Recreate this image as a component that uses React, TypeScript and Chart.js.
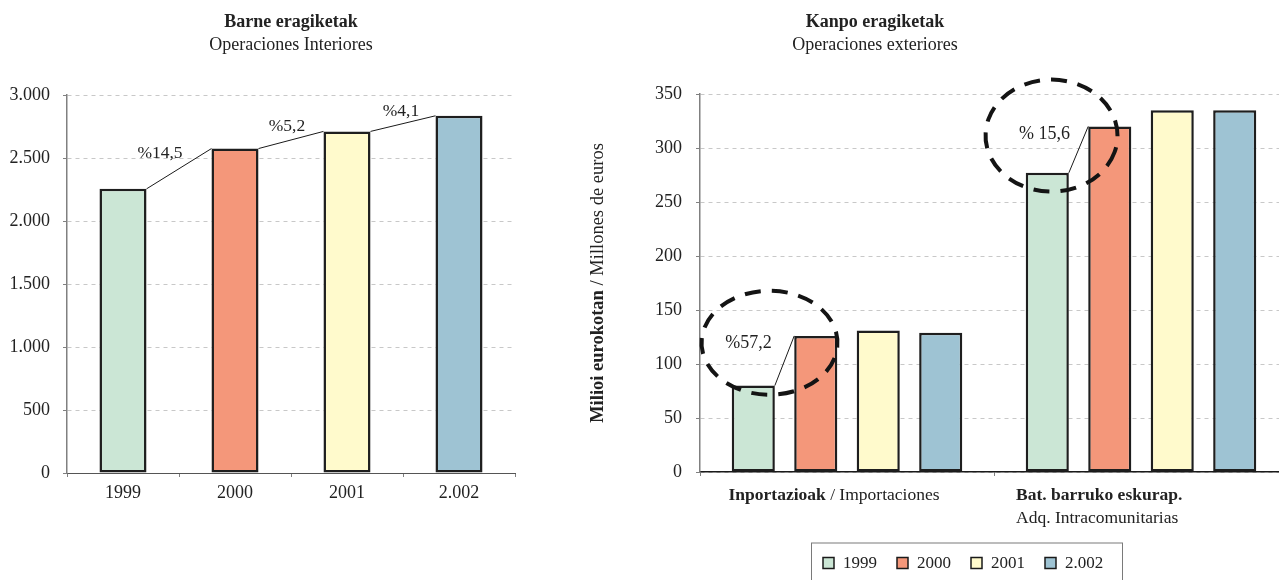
import React, { useEffect, useRef } from "react";
import { Chart, registerables } from "chart.js";

Chart.register(...registerables);

const SERIF = "'Liberation Serif', 'Times New Roman', serif";

// ---- Data ----
const yearLabels = ["1999", "2000", "2001", "2.002"];
const barColors = ["#cbe6d5", "#f4977a", "#fffacc", "#9ec3d3"];

const interiorValues = [2255, 2575, 2711, 2835];
const interiorChanges = ["%14,5", "%5,2", "%4,1"];
const interiorTickStep = 500;
const interiorMax = 3000;

const exteriorCategoryBold = ["Inportazioak", "Bat. barruko eskurap."];
const exteriorCategoryNormal = ["Importaciones", "Adq. Intracomunitarias"];
const exterior1999 = [80, 277];
const exterior2000 = [126, 320];
const exterior2001 = [131, 335];
const exterior2002 = [129, 335];
const exteriorChanges = ["%57,2", "% 15,6"];
const exteriorTickStep = 50;
const exteriorMax = 350;

const fmtThousands = (v: number) =>
  String(v).replace(/\B(?=(\d{3})+(?!\d))/g, ".");

function barBox(el: any) {
  return el.getProps(["x", "y", "width", "base"], true);
}

const leftPlugin = {
  id: "leftDecor",
  afterDatasetsDraw(chart: any) {
    const ctx = chart.ctx as CanvasRenderingContext2D;
    const bars = chart.getDatasetMeta(0).data;
    const offsets = [
      [-19, -15],
      [-4, -14],
      [-2, -12],
    ];
    ctx.save();
    ctx.strokeStyle = "#1a1a1a";
    ctx.lineWidth = 1;
    ctx.fillStyle = "#222";
    ctx.textAlign = "center";
    ctx.textBaseline = "middle";
    ctx.font = `17.5px ${SERIF}`;
    interiorChanges.forEach((label, i) => {
      const a = barBox(bars[i]);
      const b = barBox(bars[i + 1]);
      const x1 = a.x + a.width / 2;
      const y1 = a.y;
      const x2 = b.x - b.width / 2;
      const y2 = b.y;
      ctx.beginPath();
      ctx.moveTo(x1, y1);
      ctx.lineTo(x2, y2);
      ctx.stroke();
      ctx.fillText(label, (x1 + x2) / 2 + offsets[i][0], (y1 + y2) / 2 + offsets[i][1]);
    });
    const cx = (chart.chartArea.left + chart.chartArea.right) / 2;
    ctx.font = `bold 18px ${SERIF}`;
    ctx.fillText("Barne eragiketak", cx, 22);
    ctx.font = `18px ${SERIF}`;
    ctx.fillText("Operaciones Interiores", cx, 45);
    ctx.restore();
  },
};

const rightPlugin = {
  id: "rightDecor",
  afterDatasetsDraw(chart: any) {
    const ctx = chart.ctx as CanvasRenderingContext2D;
    const area = chart.chartArea;
    const m0 = chart.getDatasetMeta(0).data;
    const m1 = chart.getDatasetMeta(1).data;
    const labelOff = [
      [-36, -17],
      [-34, -15],
    ];
    const ellOff = [
      [-15, -18, 68, 52],
      [-27, -14, 66, 56],
    ];
    ctx.save();
    ctx.fillStyle = "#222";
    ctx.textAlign = "center";
    ctx.textBaseline = "middle";
    exteriorChanges.forEach((label, g) => {
      const a = barBox(m0[g]);
      const b = barBox(m1[g]);
      const x1 = a.x + a.width / 2;
      const y1 = a.y;
      const x2 = b.x - b.width / 2;
      const y2 = b.y;
      ctx.strokeStyle = "#1a1a1a";
      ctx.lineWidth = 1;
      ctx.setLineDash([]);
      ctx.beginPath();
      ctx.moveTo(x1, y1);
      ctx.lineTo(x2, y2);
      ctx.stroke();
      const mx = (x1 + x2) / 2;
      const my = (y1 + y2) / 2;
      ctx.font = `18px ${SERIF}`;
      ctx.fillText(label, mx + labelOff[g][0], my + labelOff[g][1]);
      const e = ellOff[g];
      ctx.strokeStyle = "#141414";
      ctx.lineWidth = 4;
      ctx.setLineDash([16, 11]);
      ctx.beginPath();
      ctx.ellipse(mx + e[0], my + e[1], e[2], e[3], 0, 0.3, 0.3 + Math.PI * 2);
      ctx.stroke();
    });
    ctx.setLineDash([]);

    // Titles
    const tx = area.left + 175;
    ctx.font = `bold 18px ${SERIF}`;
    ctx.fillText("Kanpo eragiketak", tx, 22);
    ctx.font = `18px ${SERIF}`;
    ctx.fillText("Operaciones exteriores", tx, 45);

    // Y axis title (rotated, mixed weight)
    const boldPart = "Milioi eurokotan";
    const normalPart = " / Millones de euros";
    ctx.save();
    ctx.translate(area.left - 102, (area.top + area.bottom) / 2);
    ctx.rotate(-Math.PI / 2);
    ctx.textAlign = "left";
    ctx.font = `bold 18.5px ${SERIF}`;
    const wb = ctx.measureText(boldPart).width;
    ctx.font = `18.5px ${SERIF}`;
    const wn = ctx.measureText(normalPart).width;
    const start = -(wb + wn) / 2;
    ctx.font = `bold 18.5px ${SERIF}`;
    ctx.fillText(boldPart, start, 0);
    ctx.font = `18.5px ${SERIF}`;
    ctx.fillText(normalPart, start + wb, 0);
    ctx.restore();

    // Category labels
    const xs = chart.scales.x;
    const ly = area.bottom + 23;
    ctx.textAlign = "left";
    {
      const c0 = xs.getPixelForValue(0) - 13;
      ctx.font = `bold 17.5px ${SERIF}`;
      const b0 = ctx.measureText(exteriorCategoryBold[0]).width;
      const sep = " / " + exteriorCategoryNormal[0];
      ctx.font = `17.5px ${SERIF}`;
      const n0 = ctx.measureText(sep).width;
      const s0 = c0 - (b0 + n0) / 2;
      ctx.font = `bold 17.5px ${SERIF}`;
      ctx.fillText(exteriorCategoryBold[0], s0, ly);
      ctx.font = `17.5px ${SERIF}`;
      ctx.fillText(sep, s0 + b0, ly);
    }
    {
      const l1 = xs.getPixelForValue(1) - 125;
      ctx.font = `bold 17.5px ${SERIF}`;
      ctx.fillText(exteriorCategoryBold[1], l1, ly);
      ctx.font = `17.5px ${SERIF}`;
      ctx.fillText(exteriorCategoryNormal[1], l1, ly + 23);
    }

    // Legend
    const lx = area.left + 111;
    const ltop = area.bottom + 70.5;
    ctx.strokeStyle = "#7a7a7a";
    ctx.lineWidth = 1;
    ctx.strokeRect(lx + 0.5, ltop + 0.5, 311, 60);
    let x = lx + 12;
    const cy = ltop + 21;
    ctx.font = `17px ${SERIF}`;
    chart.data.datasets.forEach((ds: any) => {
      ctx.fillStyle = ds.backgroundColor;
      ctx.fillRect(x, cy - 6, 11, 11);
      ctx.strokeStyle = "#1a1a1a";
      ctx.lineWidth = 1.5;
      ctx.strokeRect(x, cy - 6, 11, 11);
      ctx.fillStyle = "#222";
      ctx.fillText(ds.label, x + 20, cy);
      x += 20 + ctx.measureText(ds.label).width + 20;
    });
    ctx.restore();
  },
};

const yGrid = {
  color: "#c8c8c8",
  lineWidth: 1,
  tickLength: 4,
  tickColor: "#808080",
  tickBorderDash: [],
};

export default function App() {
  const leftRef = useRef<HTMLCanvasElement>(null);
  const rightRef = useRef<HTMLCanvasElement>(null);

  useEffect(() => {
    Chart.defaults.font.family = SERIF;
    const left = new Chart(leftRef.current!, {
      type: "bar",
      data: {
        labels: yearLabels,
        datasets: [
          {
            data: interiorValues,
            backgroundColor: barColors,
            borderColor: "#1e1e1e",
            borderWidth: 2.5,
            borderSkipped: false,
            barPercentage: 0.42,
            categoryPercentage: 1,
          },
        ],
      },
      options: {
        responsive: false,
        animation: false,
        devicePixelRatio: 1,
        layout: { padding: { left: 0, right: 45, top: 95, bottom: 67 } },
        plugins: { legend: { display: false }, tooltip: { enabled: false } },
        scales: {
          x: {
            grid: { drawOnChartArea: false, tickLength: 4, color: "#808080", offset: true },
            border: { color: "#555", width: 1 },
            ticks: { font: { family: SERIF, size: 18 }, color: "#222", padding: 5 },
            afterFit: (s: any) => {
              s.height = 40;
            },
          },
          y: {
            min: 0,
            max: interiorMax,
            ticks: {
              stepSize: interiorTickStep,
              font: { family: SERIF, size: 18 },
              color: "#222",
              padding: 13,
              callback: (v: any) => fmtThousands(Number(v)),
            },
            grid: yGrid,
            border: { color: "#808080", width: 1.5, dash: [4, 4] },
            afterFit: (s: any) => {
              s.width = 67;
            },
          },
        },
      },
      plugins: [leftPlugin],
    });

    const seriesValues = [exterior1999, exterior2000, exterior2001, exterior2002];
    const right = new Chart(rightRef.current!, {
      type: "bar",
      data: {
        labels: exteriorCategoryNormal,
        datasets: yearLabels.map((y, i) => ({
          label: y,
          data: seriesValues[i],
          backgroundColor: barColors[i],
          borderColor: "#1e1e1e",
          borderWidth: 2.5,
          borderSkipped: false,
          barPercentage: 0.69,
          categoryPercentage: 0.85,
        })),
      },
      options: {
        responsive: false,
        animation: false,
        devicePixelRatio: 1,
        layout: { padding: { left: 0, right: 12, top: 94, bottom: 68 } },
        plugins: { legend: { display: false }, tooltip: { enabled: false } },
        scales: {
          x: {
            grid: { drawOnChartArea: false, tickLength: 4, color: "#808080", offset: true },
            border: { color: "#1a1a1a", width: 1.5 },
            ticks: { display: false },
            afterFit: (s: any) => {
              s.height = 40;
            },
          },
          y: {
            min: 0,
            max: exteriorMax,
            ticks: {
              stepSize: exteriorTickStep,
              font: { family: SERIF, size: 18 },
              color: "#222",
              padding: 14,
            },
            grid: yGrid,
            border: { color: "#808080", width: 1.5, dash: [4, 4] },
            afterFit: (s: any) => {
              s.width = 140;
            },
          },
        },
      },
      plugins: [rightPlugin],
    });

    return () => {
      left.destroy();
      right.destroy();
    };
  }, []);

  return (
    <div
      style={{
        position: "fixed",
        left: 0,
        top: 0,
        width: 1279,
        height: 580,
        overflow: "hidden",
        background: "#fff",
      }}
    >
      <canvas
        ref={leftRef}
        width={560}
        height={580}
        style={{ position: "absolute", left: 0, top: 0 }}
      />
      <canvas
        ref={rightRef}
        width={740}
        height={580}
        style={{ position: "absolute", left: 560, top: 0 }}
      />
    </div>
  );
}
